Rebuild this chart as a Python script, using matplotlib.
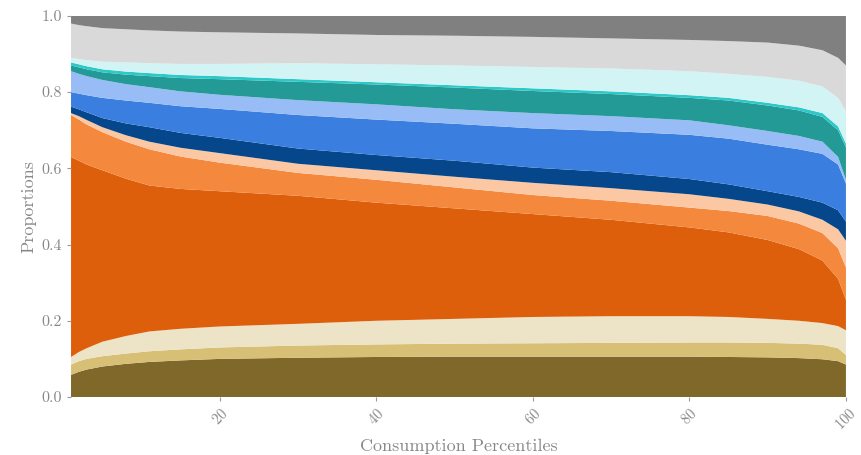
import numpy as np
import matplotlib.pyplot as plt

plt.rcParams['font.family'] = 'serif'
plt.rcParams['font.serif'] = ['cmr10', 'DejaVu Serif']
plt.rcParams['mathtext.fontset'] = 'cm'
plt.rcParams['axes.formatter.use_mathtext'] = True

# consumption percentiles where the shares were sampled
percentiles = [1, 2, 3, 5, 8, 11, 15, 20, 30, 40, 50, 60, 70, 80, 85, 90, 94, 97, 99, 100]

# budget shares per category, bottom to top of the stack
olive = [.058, .066, .072, .080, .087, .092, .096, .100, .103, .105, .106, .106, .106, .106, .105, .104, .102, .099, .094, .085]
tan = [.027, .028, .028, .027, .027, .028, .029, .030, .032, .033, .034, .035, .036, .037, .038, .038, .038, .038, .034, .025]
beige = [.020, .024, .028, .038, .046, .052, .054, .055, .057, .062, .065, .069, .070, .069, .067, .063, .060, .057, .058, .065]
dark_orange = [.525, .502, .482, .450, .413, .383, .367, .355, .336, .310, .290, .270, .253, .233, .222, .207, .188, .164, .124, .080]
orange = [.110, .108, .105, .100, .097, .095, .085, .075, .060, .060, .055, .050, .050, .052, .056, .063, .067, .072, .080, .085]
peach = [.005, .009, .012, .013, .017, .020, .023, .025, .024, .025, .028, .032, .033, .035, .032, .030, .032, .035, .050, .070]
navy = [.017, .018, .020, .024, .031, .038, .039, .040, .040, .040, .042, .040, .042, .040, .038, .035, .038, .045, .050, .050]
blue = [.038, .041, .045, .053, .060, .064, .070, .076, .088, .093, .097, .103, .108, .116, .120, .122, .125, .128, .120, .100]
light_blue = [.055, .052, .050, .047, .043, .041, .039, .037, .039, .040, .038, .040, .039, .038, .035, .036, .035, .032, .020, .010]
teal = [.015, .017, .018, .020, .025, .029, .035, .041, .048, .052, .057, .058, .058, .059, .065, .067, .067, .065, .070, .085]
turquoise = [.008, .008, .008, .008, .008, .008, .008, .008, .007, .006, .006, .007, .007, .007, .007, .007, .008, .010, .010, .010]
light_cyan = [.012, .014, .016, .020, .024, .026, .029, .032, .042, .047, .052, .056, .060, .063, .063, .068, .070, .070, .075, .085]
light_gray = [.090, .089, .089, .088, .087, .086, .085, .083, .078, .077, .078, .079, .079, .082, .086, .090, .092, .095, .105, .120]
gray = [.020, .024, .027, .032, .035, .038, .041, .043, .046, .050, .052, .055, .059, .063, .066, .070, .078, .090, .110, .130]

layers = [olive, tan, beige, dark_orange, orange, peach, navy, blue,
          light_blue, teal, turquoise, light_cyan, light_gray, gray]
colors = ['#80672a', '#d8bf76', '#ede4c8', '#de5f0b', '#f4883c', '#fcc8a4',
          '#05478a', '#3a7fe0', '#98bcf5', '#239a96', '#2dc8c8', '#d2f4f4',
          '#d9d9d9', '#808080']

fig = plt.figure(figsize=(8.61, 4.55), dpi=100)
ax = fig.add_axes([0.0825, 0.1275, 0.9, 0.8375])
ax.stackplot(percentiles, *layers, colors=colors, linewidth=0)

ax.set_xlim(1, 100)
ax.set_ylim(0, 1)
ax.set_xticks([20, 40, 60, 80, 100])
ax.set_yticks([0.0, 0.2, 0.4, 0.6, 0.8, 1.0])
ax.set_yticklabels(['0.0', '0.2', '0.4', '0.6', '0.8', '1.0'])
for lbl in ax.get_xticklabels():
    lbl.set_rotation(45)
for s in ax.spines.values():
    s.set_visible(False)
ax.tick_params(colors='#999999', labelcolor='#888888', labelsize=11.5, length=3)
ax.tick_params(axis='x', labelsize=10.5)

ax.set_xlabel('Consumption Percentiles', color='#888888', fontsize=13)
ax.set_ylabel('Proportions', color='#888888', fontsize=13)

fig.savefig('out.png', dpi=100)
